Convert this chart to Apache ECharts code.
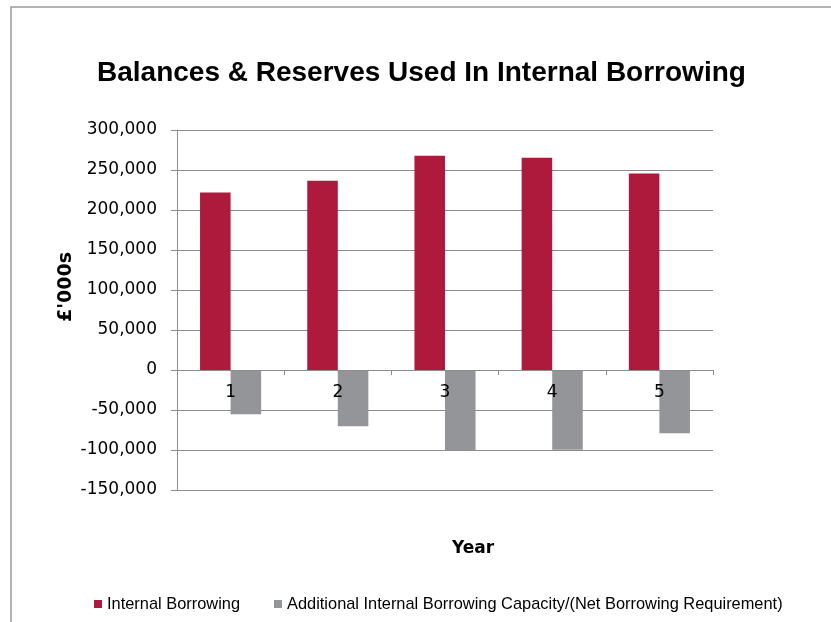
<!DOCTYPE html>
<html>
<head>
<meta charset="utf-8">
<script src="https://cdn.jsdelivr.net/npm/echarts@6/dist/echarts.min.js"></script>
<style>
  html, body { margin: 0; padding: 0; background: #fff; }
  #chart { width: 831px; height: 622px; }
</style>
</head>
<body>
<div id="chart"></div>
<script>
// Years on the category axis
const years = ['1', '2', '3', '4', '5'];
// £'000s per year
const internalBorrowing = [222000, 236500, 267700, 265200, 245600];
const additionalCapacity = [-55200, -70200, -100400, -99800, -79000];
// Value axis range and step
const yMin = -150000;
const yMax = 300000;
const yStep = 50000;

const seriesNames = [
  'Internal Borrowing',
  'Additional Internal Borrowing Capacity/(Net Borrowing Requirement)'
];

const RED = '#AE1A3C';
const GREY = '#949599';
const LINE = '#8c8c8c';

const GRID_TOP = 130;
const GRID_BOTTOM = 132;
const GRID_HEIGHT = 622 - GRID_TOP - GRID_BOTTOM;
// Category axis sits on the zero line: shift it up from the grid bottom
const zeroOffset = -GRID_HEIGHT * (0 - yMin) / (yMax - yMin);

const chart = echarts.init(document.getElementById('chart'), null, { renderer: 'canvas' });

chart.setOption({
  backgroundColor: '#ffffff',
  animation: false,
  title: {
    text: 'Balances & Reserves Used In Internal Borrowing',
    left: 92,
    top: 54,
    textStyle: {
      fontFamily: 'Liberation Sans',
      fontWeight: 'bold',
      fontSize: 28,
      color: '#000'
    }
  },
  legend: {
    left: 89,
    top: 591,
    itemWidth: 8,
    itemHeight: 8,
    itemGap: 34,
    icon: 'rect',
    textStyle: {
      fontFamily: 'Liberation Sans',
      fontSize: 16.4,
      color: '#000'
    },
    data: seriesNames
  },
  graphic: [
    {
      type: 'rect',
      shape: { x: 11, y: 7, width: 900, height: 700 },
      style: { fill: 'none', stroke: '#9a9a9a', lineWidth: 1.5 },
      silent: true
    },
    {
      type: 'text',
      x: 66,
      y: 287,
      rotation: Math.PI / 2,
      style: {
        text: "£'000s",
        font: 'bold 19px "DejaVu Sans"',
        fill: '#000',
        align: 'center',
        verticalAlign: 'middle'
      }
    },
    {
      type: 'text',
      x: 473,
      y: 549,
      style: {
        text: 'Year',
        font: 'bold 17px "DejaVu Sans"',
        fill: '#000',
        align: 'center',
        verticalAlign: 'middle'
      }
    }
  ],
  grid: {
    left: 177,
    right: 118,
    top: GRID_TOP,
    bottom: GRID_BOTTOM,
    containLabel: false
  },
  xAxis: {
    type: 'category',
    data: years,
    boundaryGap: true,
    position: 'bottom',
    offset: zeroOffset,
    z: 5,
    axisLine: { onZero: false, lineStyle: { color: LINE, width: 1 } },
    axisTick: { show: true, length: 5, lineStyle: { color: LINE } },
    axisLabel: {
      margin: 14,
      fontFamily: 'DejaVu Sans',
      fontSize: 17,
      color: '#000'
    },
    splitLine: { show: false }
  },
  yAxis: {
    type: 'value',
    min: yMin,
    max: yMax,
    interval: yStep,
    axisLine: { show: true, lineStyle: { color: LINE, width: 1 } },
    axisTick: { show: true, length: 6, lineStyle: { color: LINE } },
    axisLabel: {
      margin: 20,
      fontFamily: 'DejaVu Sans',
      fontSize: 17,
      color: '#000',
      formatter: v => v.toLocaleString('en-US')
    },
    splitLine: { show: true, lineStyle: { color: LINE, width: 1 } }
  },
  series: [
    {
      name: seriesNames[0],
      type: 'bar',
      data: internalBorrowing,
      itemStyle: { color: RED },
      barGap: '0%',
      barCategoryGap: '43%'
    },
    {
      name: seriesNames[1],
      type: 'bar',
      data: additionalCapacity,
      itemStyle: { color: GREY },
      barGap: '0%',
      barCategoryGap: '43%'
    }
  ]
});
</script>
</body>
</html>
